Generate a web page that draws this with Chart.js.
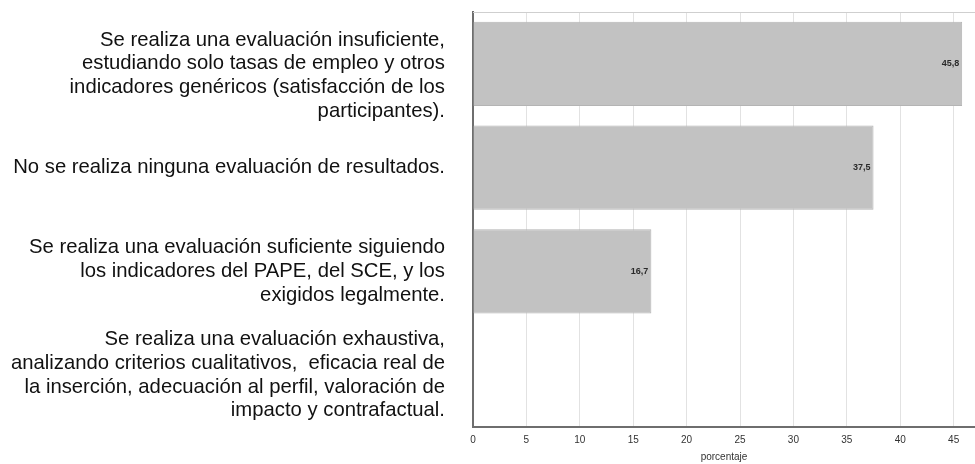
<!DOCTYPE html>
<html>
<head>
<meta charset="utf-8">
<script src="https://cdn.jsdelivr.net/npm/chart.js@4/dist/chart.umd.min.js"></script>
<style>
html,body{margin:0;padding:0;background:#fff;}
#wrap{width:975px;height:464px;position:relative;}
</style>
</head>
<body>
<div id="wrap"><canvas id="c" width="975" height="464"></canvas></div>
<script>
const categories = [
  ['', 'Se realiza una evaluación insuficiente,', 'estudiando solo tasas de empleo y otros', 'indicadores genéricos (satisfacción de los', 'participantes).'],
  ['No se realiza ninguna evaluación de resultados.'],
  ['Se realiza una evaluación suficiente siguiendo', 'los indicadores del PAPE, del SCE, y los', 'exigidos legalmente.'],
  ['Se realiza una evaluación exhaustiva,', 'analizando criterios cualitativos,  eficacia real de', 'la inserción, adecuación al perfil, valoración de', 'impacto y contrafactual.']
];
const values = [45.8, 37.5, 16.7, 0];
const valueLabels = ['45,8', '37,5', '16,7', ''];
const axisTitle = 'porcentaje';

const valueLabelPlugin = {
  id: 'valueLabels',
  afterDatasetsDraw(chart) {
    const ctx = chart.ctx;
    const meta = chart.getDatasetMeta(0);
    ctx.save();
    ctx.font = 'bold 9px "Liberation Sans", Arial, sans-serif';
    ctx.fillStyle = '#2a2a2a';
    ctx.textAlign = 'right';
    ctx.textBaseline = 'middle';
    meta.data.forEach((bar, i) => {
      if (!valueLabels[i]) return;
      ctx.fillText(valueLabels[i], bar.x - 3, bar.y);
    });
    ctx.restore();
  }
};
const topLinePlugin = {
  id: 'topLine',
  beforeDatasetsDraw(chart) {
    const a = chart.chartArea, ctx = chart.ctx;
    ctx.save();
    ctx.strokeStyle = '#cfcfcf';
    ctx.lineWidth = 1;
    ctx.beginPath();
    ctx.moveTo(a.left, a.top + 0.5);
    ctx.lineTo(a.right, a.top + 0.5);
    ctx.stroke();
    ctx.restore();
  }
};

new Chart(document.getElementById('c'), {
  type: 'bar',
  data: {
    labels: categories,
    datasets: [{
      data: values,
      backgroundColor: '#c2c2c2',
      borderColor: '#b4b4b4',
      borderWidth: 1,
      barPercentage: 0.9,
      categoryPercentage: 0.9
    }]
  },
  options: {
    indexAxis: 'y',
    responsive: false,
    animation: false,
    layout: { padding: { top: 12, right: 0, bottom: 0, left: 0 } },
    plugins: { legend: { display: false }, tooltip: { enabled: false } },
    scales: {
      x: {
        min: 0,
        max: 47,
        afterBuildTicks: s => { s.ticks = s.ticks.filter(t => t.value % 5 === 0); },
        afterFit: s => { s.paddingLeft = 0; s.paddingRight = 0; s.height = 37; },
        ticks: {
          stepSize: 5,
          color: '#333',
          font: { family: '"Liberation Sans", Arial, sans-serif', size: 10 },
          padding: 7,
          maxRotation: 0
        },
        grid: { color: '#e2e2e2', lineWidth: 1, drawTicks: false },
        border: { color: '#6e6e6e', width: 2 },
        title: {
          display: true,
          text: axisTitle,
          color: '#333',
          font: { family: '"Liberation Sans", Arial, sans-serif', size: 10 },
          padding: { top: 0, bottom: 1 }
        }
      },
      y: {
        afterFit: s => { s.width = 473; s.paddingTop = 0; s.paddingBottom = 0; },
        ticks: {
          autoSkip: false,
          color: '#111',
          font: { family: '"Liberation Sans", Arial, sans-serif', size: 20.3, lineHeight: 1.17 },
          padding: 28
        },
        grid: { display: false, drawTicks: false },
        border: { color: '#6e6e6e', width: 2 }
      }
    }
  },
  plugins: [valueLabelPlugin, topLinePlugin]
});
</script>
</body>
</html>
